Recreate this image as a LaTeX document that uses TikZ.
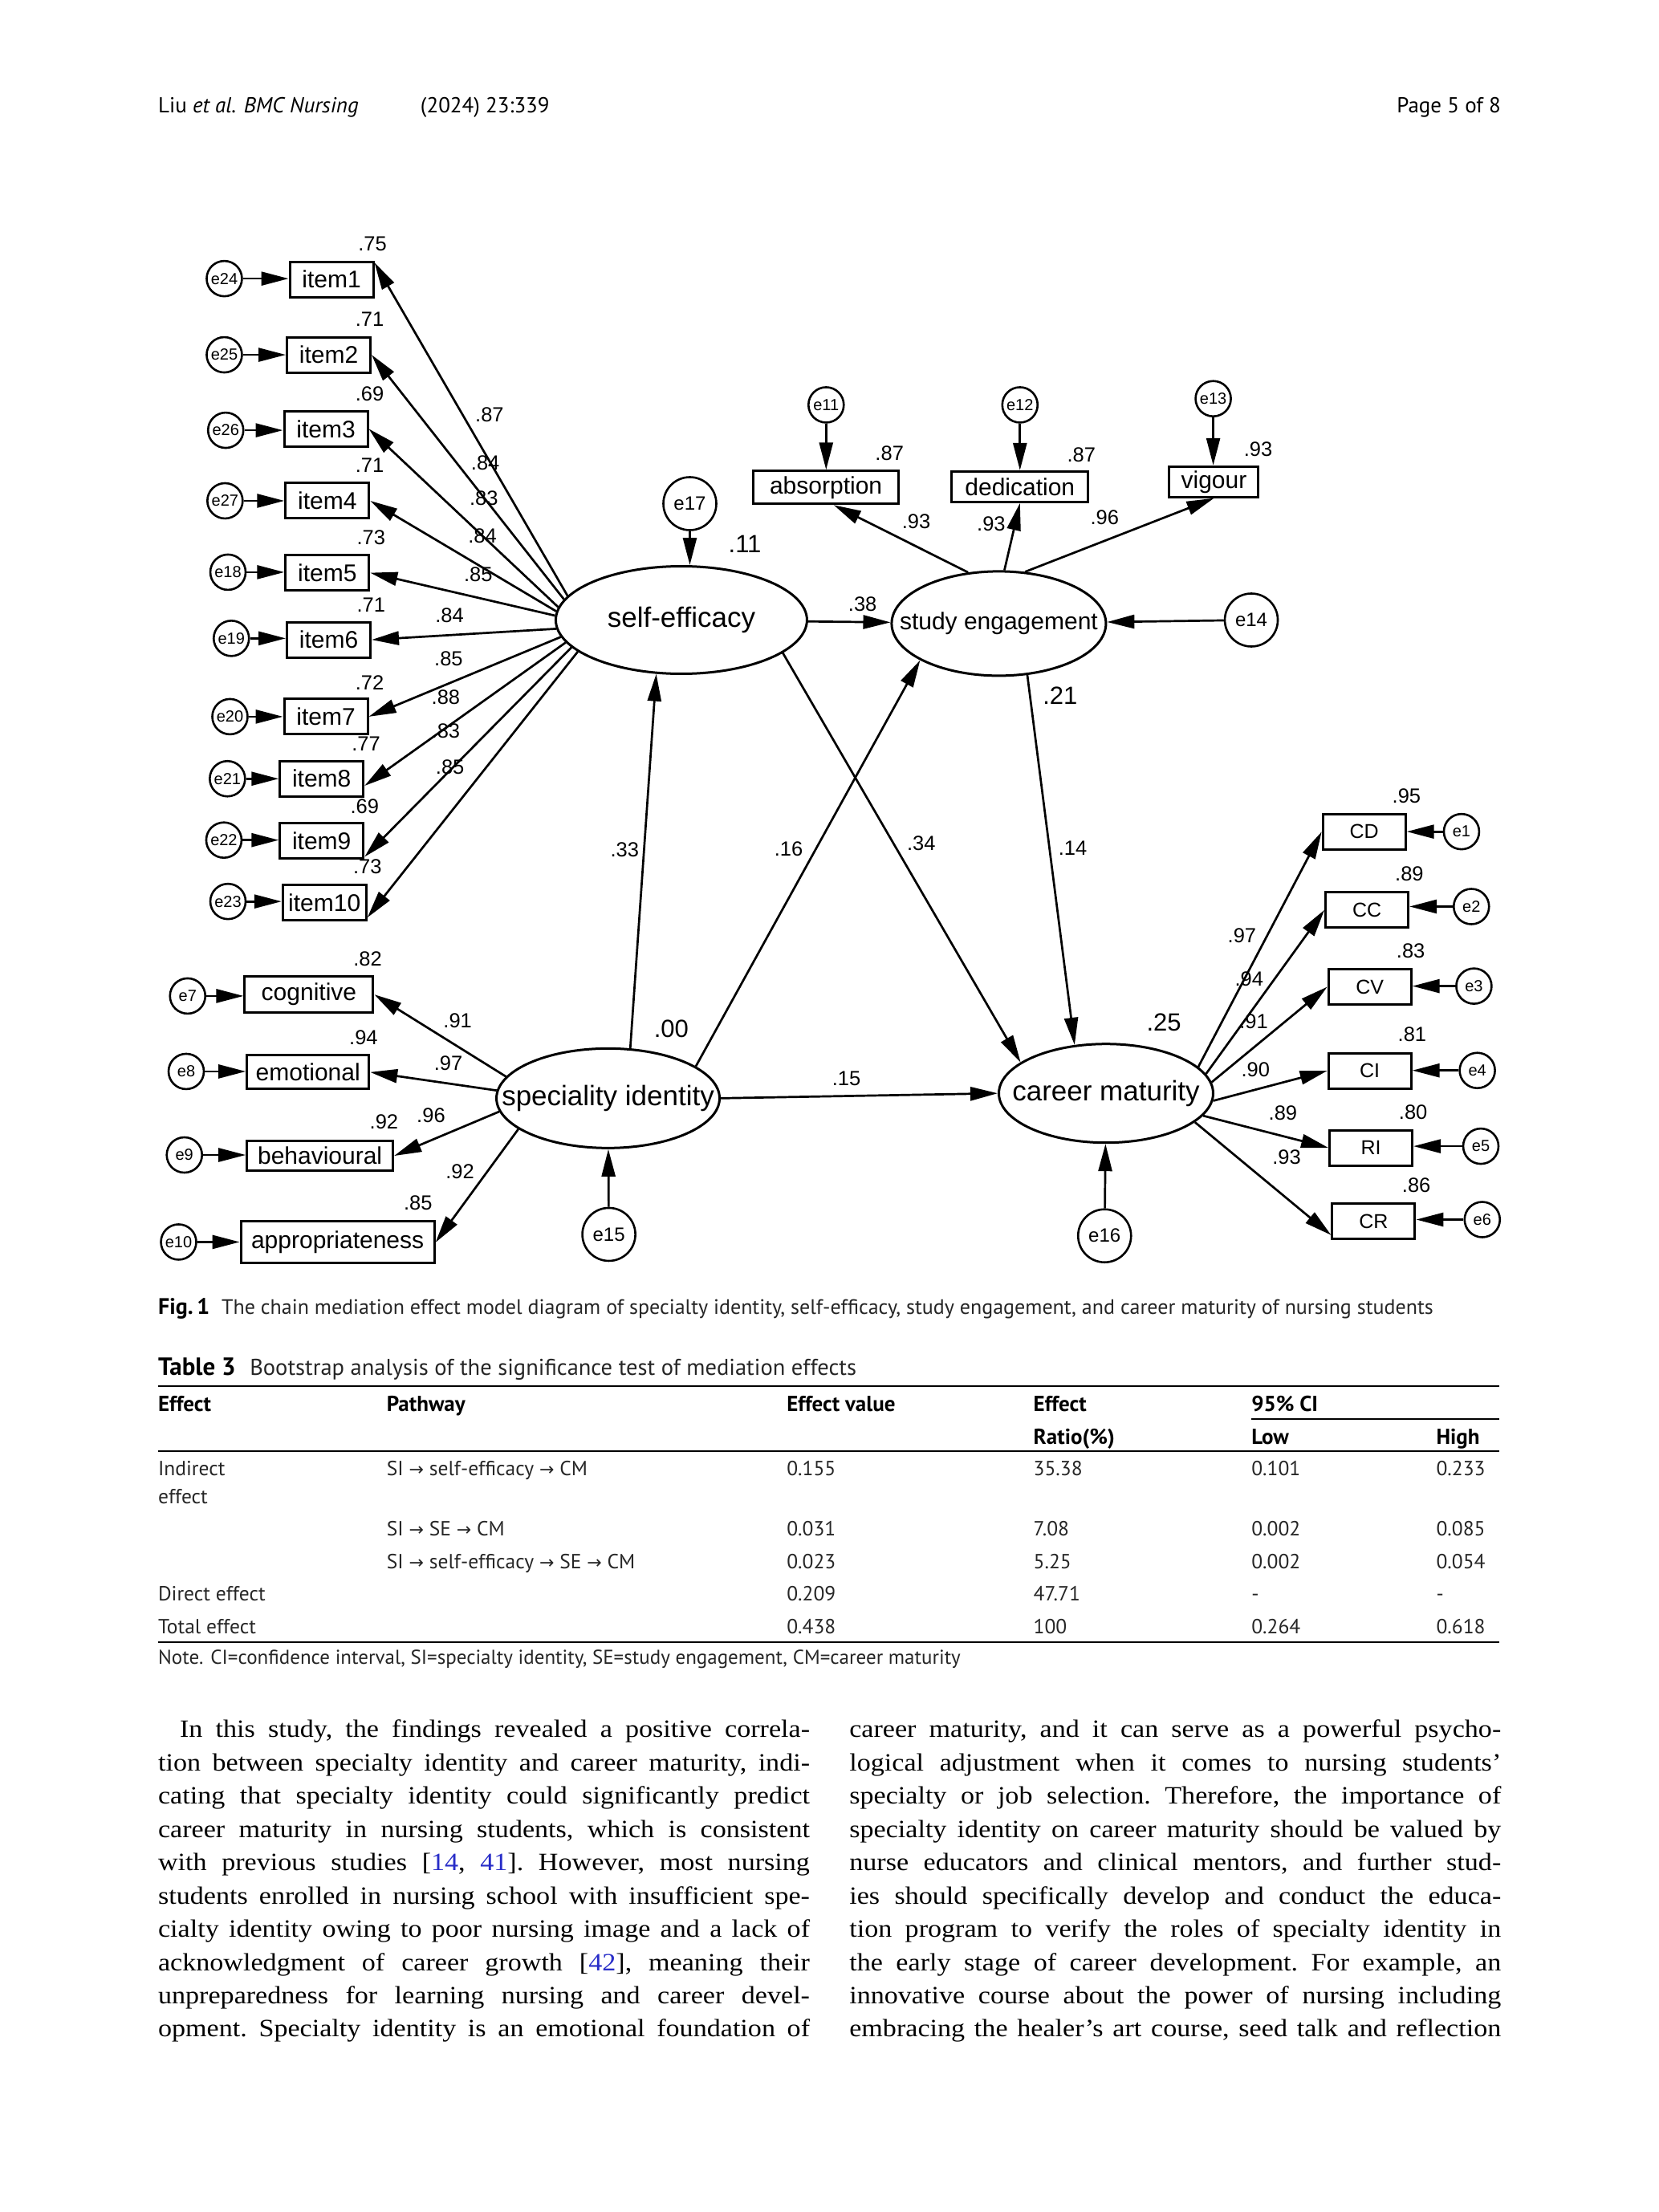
\documentclass[tikz,border=0pt]{standalone}
\usepackage{fontspec}
\setmainfont{Liberation Serif}
\newfontfamily\bodyf{Liberation Serif}[FakeStretch=1.1]
\newfontfamily\arialf{Liberation Sans}
\newfontfamily\myriadf{PT Sans}
\newfontfamily\arrowf{DejaVu Sans}
\usetikzlibrary{arrows.meta,shapes.geometric,calc}
\definecolor{citeblue}{RGB}{40,45,200}
\newcommand{\myarr}{{\arrowf\fontsize{22}{22}\selectfont →}}
\tikzset{
  ibox/.style={draw, line width=3pt, rectangle, inner sep=0pt, font=\arialf\fontsize{30}{30}\selectfont},
  cbox/.style={ibox, minimum width=103pt, minimum height=44pt, font=\arialf\fontsize{25}{25}\selectfont},
  ecirc/.style={draw, circle, line width=2.6pt, minimum size=44pt, inner sep=0pt, font=\arialf\fontsize{20}{20}\selectfont},
  ebig/.style={ecirc, minimum size=66pt, font=\arialf\fontsize{24}{24}\selectfont},
  lat/.style={draw, ellipse, line width=3pt, inner sep=0pt, font=\arialf\fontsize{35}{35}\selectfont},
  numlbl/.style={inner sep=0pt, font=\arialf\fontsize{25.5}{25.5}\selectfont},
  rsq/.style={inner sep=0pt, font=\arialf\fontsize{31}{31}\selectfont},
  arr/.style={line width=2.7pt, -{Triangle[length=34pt,width=17pt]}},
  hdr/.style={anchor=base west, inner sep=0pt, font=\myriadf\fontsize{27}{27}\selectfont},
  captxt/.style={anchor=base west, inner sep=0pt, font=\myriadf\fontsize{26}{26}\selectfont, text=black!85},
  tb/.style={anchor=base west, inner sep=0pt, font=\myriadf\fontsize{25.5}{25.5}\selectfont, text=black!85},
  tbh/.style={anchor=base west, inner sep=0pt, font=\myriadf\bfseries\fontsize{27}{27}\selectfont},
  bodytxt/.style={anchor=base west, inner sep=0pt, font=\bodyf\frenchspacing\fontsize{31}{31}\selectfont},
  tabrule/.style={line width=1.6pt}
}
\begin{document}
\begin{tikzpicture}[x=1.7577pt,y=-1.7577pt]
\fill[white] (0,0) rectangle (1176,1568);
\useasboundingbox (0,0) rectangle (1176,1568);

% ---------- header ----------
\node[hdr] (h1) at (112,80) {Liu \itshape et al. BMC Nursing};
\node[hdr] (h2) at (298,80) {(2024) 23:339};
\node[hdr, anchor=base east] (h3) at (1064,80) {Page 5 of 8};

% ---------- latent variables ----------
\node[lat, minimum width=313pt, minimum height=134pt] (se) at (483,439.5) {\makebox[0pt]{self-efficacy}};
\node[lat, minimum width=267pt, minimum height=130pt, font=\arialf\fontsize{30}{30}\selectfont] (SE) at (708,442) {\makebox[0pt]{study engagement}};
\node[lat, minimum width=278pt, minimum height=124pt] (SI) at (431,778.5) {\makebox[0pt]{speciality identity}};
\node[lat, minimum width=267pt, minimum height=123pt] (CM) at (784,775) {\makebox[0pt]{career maturity}};

% ---------- self-efficacy items ----------
\foreach \n/\x/\y in {1/235/198,2/233/251.5,3/231/304,4/232/355,5/232/406,6/233/453.5,7/231/508,8/228/552,9/228/596,10/230/640}
  \node[ibox, minimum width=104pt, minimum height=44pt] (item\n) at (\x,\y) {item\n};
\foreach \e/\x/\y/\t in {24/159/197.5/item1,25/159/251.5/item2,26/160/305/item3,27/159.5/355/item4,18/161.6/405.6/item5,19/164/452.5/item6,20/163/508/item7,21/161.2/552/item8,22/158.7/595.5/item9,23/161.6/639/item10}
  {\node[ecirc] (e\e) at (\x,\y) {e\e};
   \draw[arr] (e\e) -- (e\e -| \t.west);}
\draw[arr] (se.168) -- ($(item1.north east)+(0,1.5)$);
\draw[arr] (se.170) -- (item2.east);
\draw[arr] (se.174) -- (item3.east);
\draw[arr] (se.176) -- (item4.east);
\draw[arr] (se.178) -- (item5.east);
\draw[arr] (se.184) -- (item6.east);
\draw[arr] (se.188) -- (item7.east);
\draw[arr] (se.191) -- ($(item8.east)+(0,5)$);
\draw[arr] (se.194) -- ($(item9.south east)+(0,-2)$);
\draw[arr] (se.197) -- ($(item10.south east)+(0,-3)$);

% ---------- study engagement ----------
\node[ibox, minimum width=181pt, minimum height=41pt] (absorption) at (585.5,345.5) {absorption};
\node[ibox, minimum width=170pt, minimum height=38pt] (dedication) at (723,345) {dedication};
\node[ibox, minimum width=111pt, minimum height=38pt] (vigour) at (860.5,341.5) {vigour};
\node[ecirc] (e11) at (585.6,287) {e11};
\node[ecirc] (e12) at (723,287) {e12};
\node[ecirc] (e13) at (860,282.6) {e13};
\draw[arr] (e11) -- (e11 |- absorption.north);
\draw[arr] (e12) -- (e12 |- dedication.north);
\draw[arr] (e13) -- (e13 |- vigour.north);
\draw[arr] (SE.121) -- ($(absorption.south)+(5.5,0)$);
\draw[arr] (SE.84) -- (dedication.south);
\draw[arr] (SE.63) -- (vigour.south);

% ---------- disturbances ----------
\node[ebig] (e17) at (489,357) {e17};
\node[ebig] (e14) at (887,439.5) {e14};
\node[ebig] (e15) at (431.6,875) {e15};
\node[ebig] (e16) at (783,876) {e16};
\draw[arr] (e17) -- (e17 |- se.north);
\draw[arr] (e14) -- (SE);
\draw[arr] (e15) -- (SI);
\draw[arr] (e16) -- (CM);

% ---------- structural paths ----------
\draw[arr] (se) -- (SE);
\draw[arr] (SI.66) -- (se.245);
\draw[arr] (SI.20) -- (SE.205);
\draw[arr] (se.-18) -- (CM.160);
\draw[arr] (SE.-61) -- (CM.123);
\draw[arr] (SI.east) -- (CM.west);

% ---------- speciality identity items ----------
\node[ibox, minimum width=160pt, minimum height=45pt] (cognitive) at (219,705) {cognitive};
\node[ibox, minimum width=152pt, minimum height=42pt] (emotional) at (218.3,760) {emotional};
\node[ibox, minimum width=182pt, minimum height=37pt] (behavioural) at (226.8,819.3) {behavioural};
\node[ibox, minimum width=241pt, minimum height=52pt] (appropriateness) at (239.3,880.7) {appropriateness};
\node[ecirc] (e7) at (133,706) {e7};
\node[ecirc] (e8) at (132,759.5) {e8};
\node[ecirc] (e9) at (130.7,818.7) {e9};
\node[ecirc] (e10) at (126.6,880.4) {e10};
\draw[arr] (e7) -- (e7 -| cognitive.west);
\draw[arr] (e8) -- (e8 -| emotional.west);
\draw[arr] (e9) -- (e9 -| behavioural.west);
\draw[arr] (e10) -- (e10 -| appropriateness.west);
\draw[arr] (SI.168) -- (cognitive.east);
\draw[arr] (SI.176) -- (emotional.east);
\draw[arr] (SI.187) -- (behavioural.east);
\draw[arr] (SI.199) -- (appropriateness.east);

% ---------- career maturity items ----------
\node[cbox] (CD) at (967,589.6) {CD};
\node[cbox] (CC) at (969,645) {CC};
\node[cbox] (CV) at (971,699.5) {CV};
\node[cbox] (CI) at (971,759) {CI};
\node[cbox] (RI) at (971.8,813.6) {RI};
\node[cbox] (CR) at (973.7,865.6) {CR};
\foreach \e/\x/\y/\t in {1/1036/589.5/CD,2/1043/642.6/CC,3/1044.8/699/CV,4/1047.2/758.8/CI,5/1049.7/812.5/RI,6/1050.7/864.5/CR}
  {\node[ecirc] (e\e) at (\x,\y) {e\e};
   \draw[arr] (e\e) -- (e\e -| \t.east);}
\draw[arr] (CM.16) -- (CD.west);
\draw[arr] (CM.11) -- (CC.west);
\draw[arr] (CM.6) -- (CV.west);
\draw[arr] (CM.-4) -- (CI.west);
\draw[arr] (CM.-13) -- (RI.west);
\draw[arr] (CM.-18) -- ($(CR.south west)+(0,-3.5)$);

% ---------- coefficients ----------
\foreach [count=\i] \x/\y/\t in {264/173/.75,262/226/.71,262/279/.69,262/330/.71,263/381/.73,263/429/.71,262/484/.72,259.5/527/.77,258.5/571.5/.69,260.5/614.4/.73,
  347/294/.87,344/328/.84,343/353/.83,342/380/.84,339/407/.85,318.6/436/.84,318/467/.85,316/494/.88,316/518/.83,319/544/.85,
  630.5/321.5/.87,766.5/322.4/.87,891.8/318.6/.93,649.5/369.8/.93,702.6/371.6/.93,783/367/.96,611.4/428.5/.38,
  442.8/602.3/.33,559/602/.16,653/598/.34,760.4/601.4/.14,600/764.7/.15,
  260.6/680/.82,324.4/723.5/.91,257.7/735.7/.94,317.8/753.8/.97,272.2/795/.92,305.5/790.8/.96,326/830.6/.92,296.3/852.4/.85,
  880.4/663.3/.97,885.4/694/.94,888.7/724/.91,890/758/.90,909.4/789/.89,912/820.2/.93,
  997/564/.95,999/619.6/.89,1000/673.8/.83,1001/733/.81,1001.7/788.4/.80,1004/840.3/.86}
  \node[numlbl] (c\i) at (\x,\y) {\t};
\foreach [count=\i] \x/\y/\t in {528/385.8/.11,751.5/493/.21,475.8/729/.00,825/724.6/.25}
  \node[rsq] (r\i) at (\x,\y) {\t};

% ---------- caption ----------
\node[captxt, font=\myriadf\bfseries\fontsize{28}{28}\selectfont, text=black] (figl) at (112,931.5) {Fig.\,1};
\node[captxt] (figc) at (157,931.5) {The chain mediation effect model diagram of specialty identity, self-efficacy, study engagement, and career maturity of nursing students};

% ---------- table ----------
\node[tbh, font=\myriadf\bfseries\fontsize{31}{31}\selectfont] (tabl) at (112,975) {Table 3};
\node[captxt, font=\myriadf\fontsize{28.5}{28.5}\selectfont] (tabc) at (177,975) {Bootstrap analysis of the significance test of mediation effects};
\draw[tabrule] (112,982.7) -- (1063,982.7);
\draw[tabrule] (887,1006) -- (1063,1006);
\draw[tabrule] (112,1028.8) -- (1063,1028.8);
\draw[tabrule] (112,1164) -- (1063,1164);
\node[tbh] (th1) at (112,1000.3) {Effect};
\node[tbh] (th2) at (274,1000.3) {Pathway};
\node[tbh] (th3) at (557.6,1000.3) {Effect value};
\node[tbh] (th4) at (732.5,1000.3) {Effect};
\node[tbh] (th5) at (887,1000.3) {95\% CI};
\node[tbh] (th6) at (732.5,1024) {Ratio(\%)};
\node[tbh] (th7) at (887,1024) {Low};
\node[tbh] (th8) at (1018,1024) {High};
\node[tb] (t11) at (112,1045.9) {Indirect};
\node[tb] (t12) at (112,1065.8) {effect};
\node[tb] (t13) at (274,1045.9) {SI \myarr{} self-efficacy \myarr{} CM};
\node[tb] (t14) at (557.6,1045.9) {0.155};
\node[tb] (t15) at (732.5,1045.9) {35.38};
\node[tb] (t16) at (887,1045.9) {0.101};
\node[tb] (t17) at (1018,1045.9) {0.233};
\node[tb] (t23) at (274,1088.5) {SI \myarr{} SE \myarr{} CM};
\node[tb] (t24) at (557.6,1088.5) {0.031};
\node[tb] (t25) at (732.5,1088.5) {7.08};
\node[tb] (t26) at (887,1088.5) {0.002};
\node[tb] (t27) at (1018,1088.5) {0.085};
\node[tb] (t33) at (274,1112.2) {SI \myarr{} self-efficacy \myarr{} SE \myarr{} CM};
\node[tb] (t34) at (557.6,1112.2) {0.023};
\node[tb] (t35) at (732.5,1112.2) {5.25};
\node[tb] (t36) at (887,1112.2) {0.002};
\node[tb] (t37) at (1018,1112.2) {0.054};
\node[tb] (t41) at (112,1135) {Direct effect};
\node[tb] (t44) at (557.6,1135) {0.209};
\node[tb] (t45) at (732.5,1135) {47.71};
\node[tb] (t46) at (887,1135) {-};
\node[tb] (t47) at (1018,1135) {-};
\node[tb] (t51) at (112,1157.8) {Total effect};
\node[tb] (t54) at (557.6,1157.8) {0.438};
\node[tb] (t55) at (732.5,1157.8) {100};
\node[tb] (t56) at (887,1157.8) {0.264};
\node[tb] (t57) at (1018,1157.8) {0.618};
\node[tb, font=\myriadf\fontsize{25}{25}\selectfont] (note) at (112,1179.5) {Note. CI=confidence interval, SI=specialty identity, SE=study engagement, CM=career maturity};

% ---------- body text ----------
\node[bodytxt] (L1) at (127.4,1231.7) {\hbox to 785pt{In this study, the findings revealed a positive correla-}};
\node[bodytxt] (L2) at (112,1255.3) {\hbox to 812pt{tion between specialty identity and career maturity, indi-}};
\node[bodytxt] (L3) at (112,1278.9) {\hbox to 812pt{cating that specialty identity could significantly predict}};
\node[bodytxt] (L4) at (112,1302.4) {\hbox to 812pt{career maturity in nursing students, which is consistent}};
\node[bodytxt] (L5) at (112,1326.0) {\hbox to 812pt{with previous studies [\textcolor{citeblue}{14}, \textcolor{citeblue}{41}]. However, most nursing}};
\node[bodytxt] (L6) at (112,1349.6) {\hbox to 812pt{students enrolled in nursing school with insufficient spe-}};
\node[bodytxt] (L7) at (112,1373.2) {\hbox to 812pt{cialty identity owing to poor nursing image and a lack of}};
\node[bodytxt] (L8) at (112,1396.8) {\hbox to 812pt{acknowledgment of career growth [\textcolor{citeblue}{42}], meaning their}};
\node[bodytxt] (L9) at (112,1420.3) {\hbox to 812pt{unpreparedness for learning nursing and career devel-}};
\node[bodytxt] (L10) at (112,1443.9) {\hbox to 812pt{opment. Specialty identity is an emotional foundation of}};

\node[bodytxt] (R1) at (602,1231.7) {\hbox to 812pt{career maturity, and it can serve as a powerful psycho-}};
\node[bodytxt] (R2) at (602,1255.3) {\hbox to 812pt{logical adjustment when it comes to nursing students’}};
\node[bodytxt] (R3) at (602,1278.9) {\hbox to 812pt{specialty or job selection. Therefore, the importance of}};
\node[bodytxt] (R4) at (602,1302.4) {\hbox to 812pt{specialty identity on career maturity should be valued by}};
\node[bodytxt] (R5) at (602,1326.0) {\hbox to 812pt{nurse educators and clinical mentors, and further stud-}};
\node[bodytxt] (R6) at (602,1349.6) {\hbox to 812pt{ies should specifically develop and conduct the educa-}};
\node[bodytxt] (R7) at (602,1373.2) {\hbox to 812pt{tion program to verify the roles of specialty identity in}};
\node[bodytxt] (R8) at (602,1396.8) {\hbox to 812pt{the early stage of career development. For example, an}};
\node[bodytxt] (R9) at (602,1420.3) {\hbox to 812pt{innovative course about the power of nursing including}};
\node[bodytxt] (R10) at (602,1443.9) {\hbox to 812pt{embracing the healer’s art course, seed talk and reflection}};
\end{tikzpicture}
\end{document}
